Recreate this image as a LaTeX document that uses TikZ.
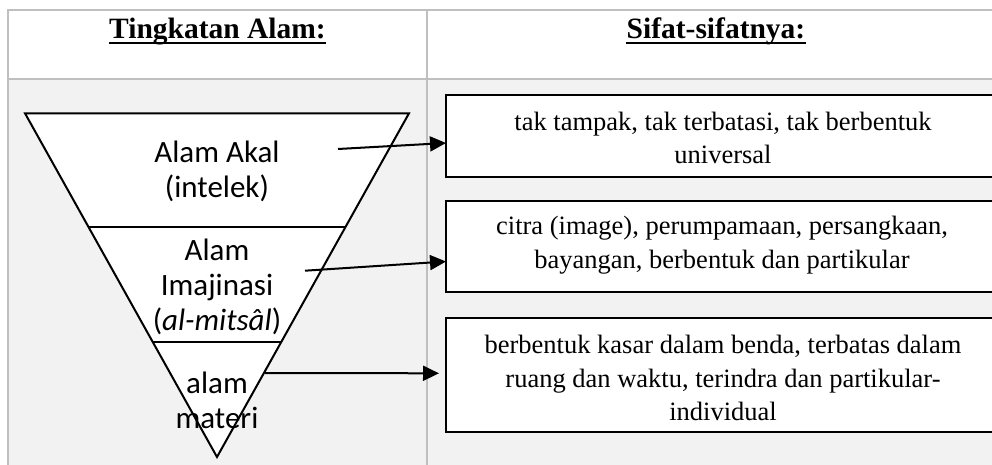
\documentclass[tikz,border=0pt]{standalone}
\usepackage{fontspec}
\setmainfont{Liberation Serif}
\newfontfamily\calibrifont{Carlito}
\usetikzlibrary{arrows.meta,calc}
\definecolor{tblgray}{HTML}{BFBFBF}
\definecolor{rowgray}{HTML}{F2F2F2}
\begin{document}
\begin{tikzpicture}[x=1pt,y=-1pt,
  tblline/.style={draw=tblgray,line width=2pt},
  tri/.style={draw=black,line width=2pt,line join=miter},
  layer/.style={font=\calibrifont\fontsize{31pt}{35pt}\selectfont,align=center,inner sep=0pt},
  hdr/.style={font=\bfseries\fontsize{29.5pt}{34pt}\selectfont,inner sep=0pt,anchor=base},
  uline/.style={draw=black,line width=2pt},
  descbox/.style={draw=black,line width=2.3pt,fill=white,anchor=north west,minimum width=640pt,inner sep=0pt,outer sep=0pt},
  desctext/.style={font=\fontsize{26.5pt}{33.5pt}\selectfont,align=center,inner sep=0pt},
  arr/.style={draw=black,line width=2pt,-{Triangle[length=16pt,width=15pt]}}]

\useasboundingbox (0,0) rectangle (992,465);
\clip (0,0) rectangle (992,465);
\fill[white] (0,0) rectangle (992,465);
% table
\fill[rowgray] (7.5,79) rectangle (1010,480);
\draw[tblline] (7.5,480) -- (7.5,10) -- (1010,10);
\draw[tblline] (7.5,79) -- (1010,79);
\draw[tblline] (426.7,10) -- (426.7,480);

% headers
\node[hdr] (h1) at (217.5,38.5) {Tingkatan Alam:};
\draw[uline] ([yshift=-4.8pt]h1.base west) -- ([yshift=-4.8pt]h1.base east);
\node[hdr] (h2) at (716,38.5) {Sifat-sifatnya:};
\draw[uline] ([yshift=-4.8pt]h2.base west) -- ([yshift=-4.8pt]h2.base east);

% inverted triangle
\coordinate (tl) at (25,113.3);
\coordinate (tr) at (409,113.3);
\coordinate (ap) at (217,457);
\filldraw[tri,fill=white] (tl) -- (tr) -- (ap) -- cycle;
\draw[tri] ($(tl)!0.3308!(ap)$) -- ($(tr)!0.3308!(ap)$);
\draw[tri] ($(tl)!0.6654!(ap)$) -- ($(tr)!0.6654!(ap)$);

% layer labels
\node[layer] (akal) at (217,171) {Alam Akal\\(intelek)};
\node[layer] (imaj) at (217,287) {Alam\\Imajinasi\\(\textit{al-mitsâl})};
\node[layer] (materi) at (217,400) {alam\\materi};

% description boxes
\node[descbox,minimum height=82pt] (b1) at (446,95) {};
\node[descbox,minimum height=91pt] (b2) at (446,201) {};
\node[descbox,minimum height=114pt] (b3) at (446,318.3) {};
\node[desctext] (t1) at (723,138) {tak tampak, tak terbatasi, tak berbentuk\\universal};
\node[desctext] (t2) at (722,245) {citra (image), perumpamaan, persangkaan,\\bayangan, berbentuk dan partikular};
\node[desctext] (t3) at (723,378.3) {berbentuk kasar dalam benda, terbatas dalam\\ruang dan waktu, terindra dan partikular-\\individual};

% arrows
\coordinate (a1) at (338,149);
\coordinate (a2) at (305,270.7);
\coordinate (a3) at (265,373);
\draw[arr] (a1) -- ($(b1.west)+(0,7)$);
\draw[arr] (a2) -- ($(b2.west)+(0,15)$);
\draw[arr] (a3) -- ($(b3.west)+(-7,-2)$);
\end{tikzpicture}
\end{document}
